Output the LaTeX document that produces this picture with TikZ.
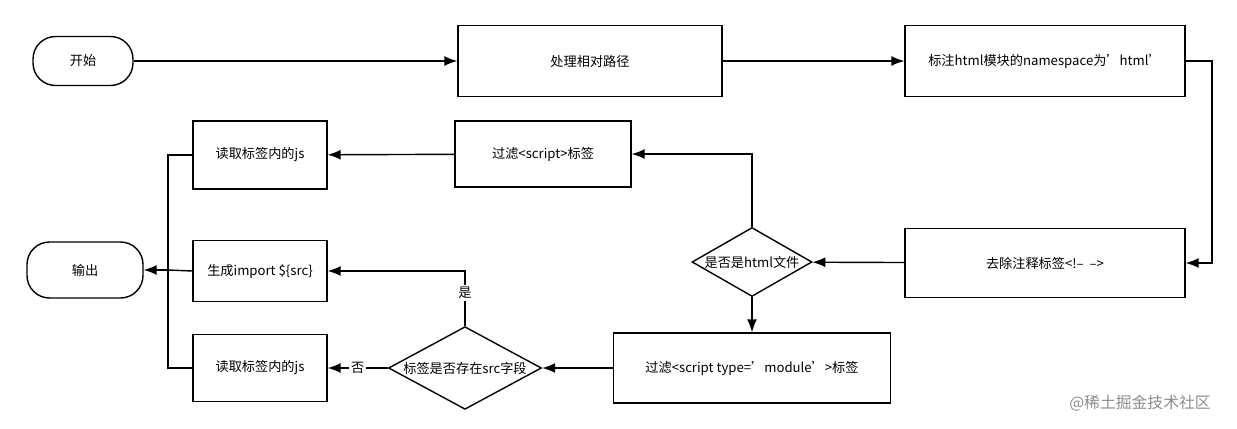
\documentclass[tikz,border=0pt]{standalone}
\usepackage{fontspec}
\setmainfont{Noto Sans CJK SC}
\usetikzlibrary{shapes.geometric,arrows.meta}
\tikzset{
  box/.style={rectangle,draw,thick,fill=white,font=\fontsize{7.5}{9}\selectfont},
  term/.style={box,rounded corners=0.45cm},
  test/.style={diamond,draw,thick,aspect=1.75,inner sep=0pt,font=\fontsize{7.5}{9}\selectfont},
  flow/.style={thick,-{Latex[length=2.6mm,width=2mm]}},
  lbl/.style={fill=white,font=\fontsize{7.5}{9}\selectfont,inner sep=1pt}
}
\begin{document}
\begin{tikzpicture}[x=0.02cm,y=-0.02cm]
  \useasboundingbox (0,0) rectangle (1237,429);

  % top row
  \node[term,minimum width=2cm,minimum height=0.98cm] (start) at (83,61) {开始};
  \node[box,minimum width=5.28cm,minimum height=1.42cm] (rel) at (590,61) {处理相对路径};
  \node[box,minimum width=5.6cm,minimum height=1.42cm] (ns) at (1045,61) {标注html模块的namespace为'html'};

  % middle
  \node[box,minimum width=3.52cm,minimum height=1.32cm] (fscript) at (543,154) {过滤<script>标签};
  \node[box,minimum width=2.68cm,minimum height=1.36cm] (read1) at (260,155) {读取标签内的js};
  \node[box,minimum width=5.6cm,minimum height=1.38cm] (rmc) at (1045,263) {去除注释标签<!--\ \ -->};
  \node[test,minimum width=2.4cm,minimum height=1.38cm] (ishtml) at (752,262) {是否是html文件};
  \node[term,minimum width=2.32cm,minimum height=1.12cm] (out) at (85,270) {输出};
  \node[box,minimum width=2.68cm,minimum height=1.22cm] (gen) at (260,271) {生成import \$\{src\}};

  % bottom row
  \node[box,minimum width=5.54cm,minimum height=1.4cm] (fmod) at (752,368) {过滤<script type='module'>标签};
  \node[test,minimum width=3.06cm,minimum height=1.38cm] (hassrc) at (465,368) {标签是否存在src字段};
  \node[box,minimum width=2.68cm,minimum height=1.34cm] (read2) at (260,368) {读取标签内的js};

  \coordinate (join) at (168,270);

  \draw[flow] (start) -- (rel);
  \draw[flow] (rel) -- (ns);
  \draw[flow] (ns.east) -- (1212,61) |- (rmc.east);
  \draw[flow] (rmc) -- (ishtml);
  \draw[flow] (ishtml.north) |- (fscript.east);
  \draw[flow] (ishtml.south) -- (fmod.north);
  \draw[flow] (fmod) -- (hassrc);
  \draw[flow] (hassrc.north) |- node[lbl,pos=0.3]{是} (gen.east);
  \draw[flow] (hassrc.west) -- node[lbl]{否} (read2.east);
  \draw[flow] (fscript) -- (read1);
  \draw[thick] (read1.west) -| (join) |- (read2.west);
  \draw[thick] (gen.west) -- (join);
  \draw[flow] (join) -- (out.east);

  \node[text=black!45,font=\fontsize{9}{11}\selectfont] (mark) at (1140,403) {@稀土掘金技术社区};
\end{tikzpicture}
\end{document}
